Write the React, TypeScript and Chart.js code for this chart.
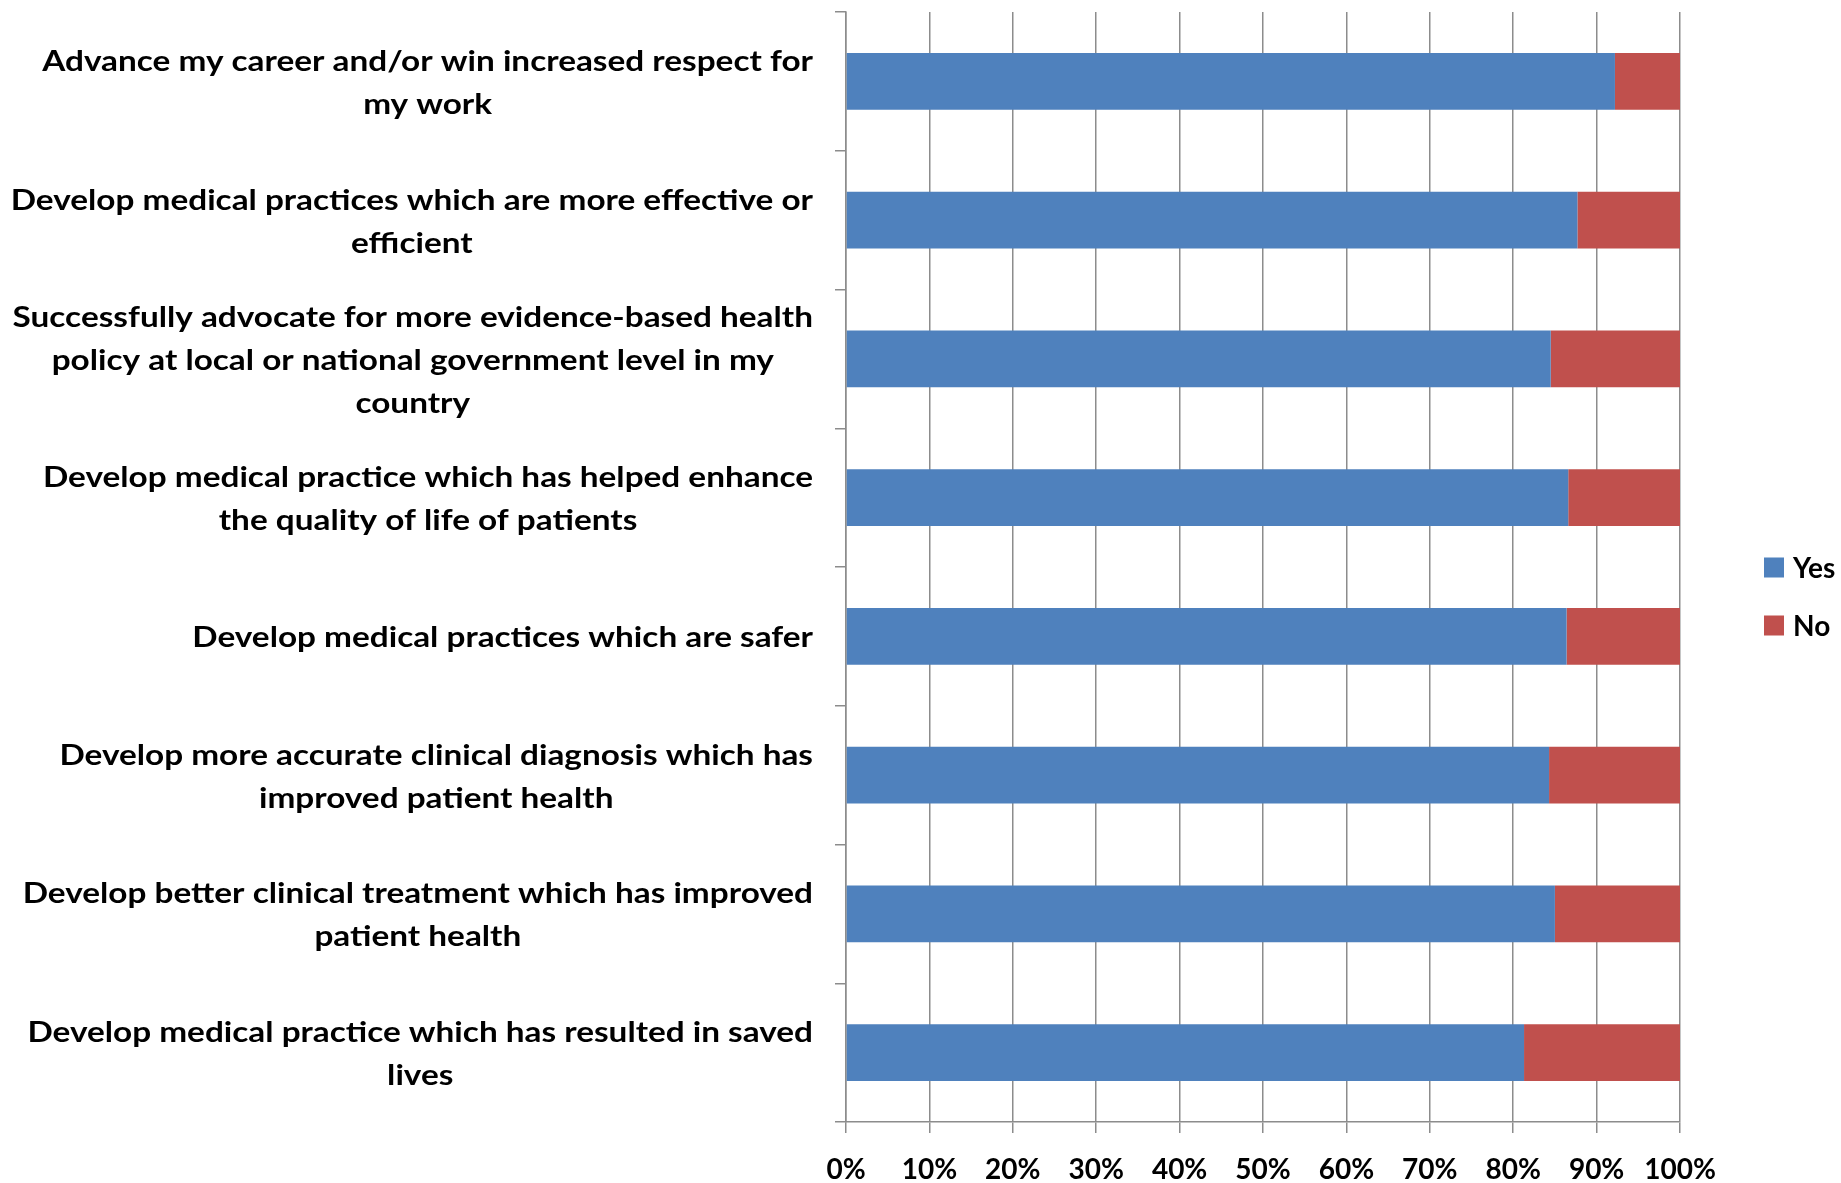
import React, { useEffect, useRef } from "react";
import { Chart, registerables } from "chart.js";

Chart.register(...registerables);

// ---------- data ----------
const categories: string[][] = [
  ["Advance my career and/or win increased respect for", "my work"],
  ["Develop medical practices which are more effective or", "efficient"],
  [
    "Successfully advocate for more evidence-based health",
    "policy at local or national government level in my",
    "country",
  ],
  ["Develop medical practice which has helped enhance", "the quality of life of patients"],
  ["Develop medical practices which are safer"],
  ["Develop more accurate clinical diagnosis which has", "improved patient health"],
  ["Develop better clinical treatment which has improved", "patient health"],
  ["Develop medical practice which has resulted in saved", "lives"],
];

const seriesNames = ["Yes", "No"];
const yesValues = [92.2, 87.7, 84.5, 86.6, 86.4, 84.3, 85.0, 81.3];
const noValues = [7.8, 12.3, 15.5, 13.4, 13.6, 15.7, 15.0, 18.7];
const xTickLabels = ["0%", "10%", "20%", "30%", "40%", "50%", "60%", "70%", "80%", "90%", "100%"];

// ---------- styling ----------
const W = 1841;
const H = 1183;
const COLORS = ["#4F81BD", "#C0504D"];
const GRID = "#8c8c8c";
const FONT = "Lato, 'Open Sans', sans-serif";
const LABEL_FONT = `bold 28px ${FONT}`;
const LABEL_STRETCH = 1.19;

const categoryLabelPlugin = {
  id: "categoryLabels",
  afterDraw(chart: any) {
    const y = chart.scales.y;
    const ctx = chart.ctx as CanvasRenderingContext2D;
    ctx.save();
    ctx.font = LABEL_FONT;
    ctx.fillStyle = "#000";
    ctx.textAlign = "center";
    ctx.textBaseline = "middle";
    const right = y.right - 11 - 22;
    const lh = 43;
    (chart.data.labels as any[]).forEach((lab, i) => {
      const lines: string[] = Array.isArray(lab) ? lab : [lab];
      const maxW = Math.max(...lines.map((l) => ctx.measureText(l).width)) * LABEL_STRETCH;
      const cx = right - maxW / 2;
      const cy = y.getPixelForTick(i) + 2;
      lines.forEach((line, j) => {
        ctx.save();
        ctx.translate(cx, cy + (j - (lines.length - 1) / 2) * lh);
        ctx.scale(LABEL_STRETCH, 1);
        ctx.fillText(line, 0, 0);
        ctx.restore();
      });
    });
    ctx.restore();
  },
};

const sideLegendPlugin = {
  id: "sideLegend",
  afterDraw(chart: any) {
    const ctx = chart.ctx as CanvasRenderingContext2D;
    const area = chart.chartArea;
    const x0 = area.right + 84;
    const midY = chart.height / 2 + 5;
    const gap = 58;
    const ds = chart.data.datasets;
    ctx.save();
    ds.forEach((d: any, i: number) => {
      const cy = midY + (i - (ds.length - 1) / 2) * gap;
      ctx.fillStyle = d.backgroundColor;
      ctx.fillRect(x0, cy - 10, 20, 20);
      ctx.fillStyle = "#000";
      ctx.font = LABEL_FONT;
      ctx.textAlign = "left";
      ctx.textBaseline = "middle";
      ctx.fillText(d.label, x0 + 29, cy + 1);
    });
    ctx.restore();
  },
};

export default function App() {
  const canvasRef = useRef<HTMLCanvasElement | null>(null);

  useEffect(() => {
    let chart: Chart | null = null;
    let cancelled = false;
    const make = () => {
      if (cancelled || !canvasRef.current) return;
      chart = new Chart(canvasRef.current, {
        type: "bar",
        data: {
          labels: categories,
          datasets: [
            {
              label: seriesNames[0],
              data: yesValues,
              backgroundColor: COLORS[0],
              barPercentage: 0.41,
              categoryPercentage: 1.0,
            },
            {
              label: seriesNames[1],
              data: noValues,
              backgroundColor: COLORS[1],
              barPercentage: 0.41,
              categoryPercentage: 1.0,
            },
          ],
        },
        options: {
          indexAxis: "y",
          animation: false,
          responsive: false,
          devicePixelRatio: 1,
          layout: { padding: { top: 12, left: 0, right: 161, bottom: 0 } },
          plugins: {
            legend: { display: false },
            tooltip: { enabled: false },
          },
          scales: {
            x: {
              type: "linear",
              stacked: true,
              min: 0,
              max: 100,
              ticks: {
                stepSize: 10,
                padding: 20,
                color: "#000",
                font: { family: FONT, size: 28, weight: "bold" },
                callback: (_v: any, i: number) => xTickLabels[i],
              },
              grid: { color: GRID, lineWidth: 1.5, tickLength: 11, drawTicks: true },
              border: { color: GRID, width: 1.5 },
              afterFit: (s: any) => {
                s.height = 61;
              },
            },
            y: {
              type: "category",
              stacked: true,
              ticks: { display: false },
              grid: {
                display: true,
                drawOnChartArea: false,
                drawTicks: true,
                tickLength: 11,
                color: GRID,
                lineWidth: 1.5,
                offset: true,
              },
              border: { display: true, color: GRID, width: 1.5 },
              afterFit: (s: any) => {
                s.width = 846;
              },
            },
          },
        },
        plugins: [categoryLabelPlugin, sideLegendPlugin],
      } as any);
    };
    const fonts: any = (document as any).fonts;
    if (fonts && fonts.load) {
      Promise.all([fonts.load(`bold 28px Lato`)])
        .catch(() => null)
        .then(make);
    } else {
      make();
    }
    return () => {
      cancelled = true;
      if (chart) chart.destroy();
    };
  }, []);

  return (
    <div style={{ position: "fixed", left: 0, top: 0, width: W, height: H, background: "#fff" }}>
      <canvas ref={canvasRef} width={W} height={H} style={{ width: W, height: H, display: "block" }} />
    </div>
  );
}
